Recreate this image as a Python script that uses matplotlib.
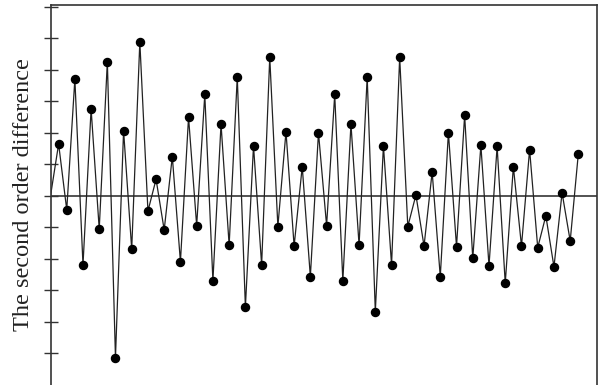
import matplotlib
matplotlib.use("Agg")
import matplotlib.pyplot as plt

values = [0.0, 1.65, -0.44, 3.71, -2.19, 2.76, -1.05, 4.26, -5.13, 2.07,
          -1.69, 4.89, -0.48, 0.53, -1.08, 1.25, -2.09, 2.50, -0.94, 3.22,
          -2.69, 2.28, -1.56, 3.78, -3.53, 1.59, -2.19, 4.40, -0.97, 2.04,
          -1.59, 0.93, -2.56, 2.01, -0.94, 3.22, -2.69, 2.28, -1.56, 3.78,
          -3.67, 1.59, -2.19, 4.40, -0.97, 0.03, -1.59, 0.76, -2.56, 2.01,
          -1.61, 2.56, -1.98, 1.61, -2.22, 1.57, -2.77, 0.93, -1.59, 1.47,
          -1.64, -0.63, -2.25, 0.10, -1.43, 1.34]
index = list(range(len(values)))
ytick_values = [-5, -4, -3, -2, -1, 0, 1, 2, 3, 4, 5, 6]
ylabel = "The second order difference"

W, H = 599, 385
fig = plt.figure(figsize=(W / 100, H / 100), dpi=100)
left, right, top, bottom = 50.5, 597, 5, 385
ax = fig.add_axes([left / W, 1 - bottom / H, (right - left) / W, (bottom - top) / H])

ax.axhline(0, color="#444444", lw=1.3, zorder=1)
ax.plot(index, values, color="#222222", lw=0.9, zorder=2)
ax.plot(index[1:], values[1:], linestyle="none", marker="o", markersize=5.8,
        color="black", zorder=3)

ax.set_xlim(0, 67.3)
ax.set_ylim(-6.0, 6.06)
ax.set_yticks(ytick_values)
ax.set_yticklabels([])
ax.set_xticks([])
ax.tick_params(axis="y", direction="inout", length=10, width=1, color="#333333")
for s in ["left", "right", "top"]:
    ax.spines[s].set_color("#333333")
    ax.spines[s].set_linewidth(1.2)
ax.spines["bottom"].set_visible(False)

fig.text(24 / W, 1 - 195 / H, ylabel, family="Liberation Serif", fontsize=17.5,
         rotation=90, ha="center", va="center", color="#222222")

fig.savefig("out.png", dpi=100)
